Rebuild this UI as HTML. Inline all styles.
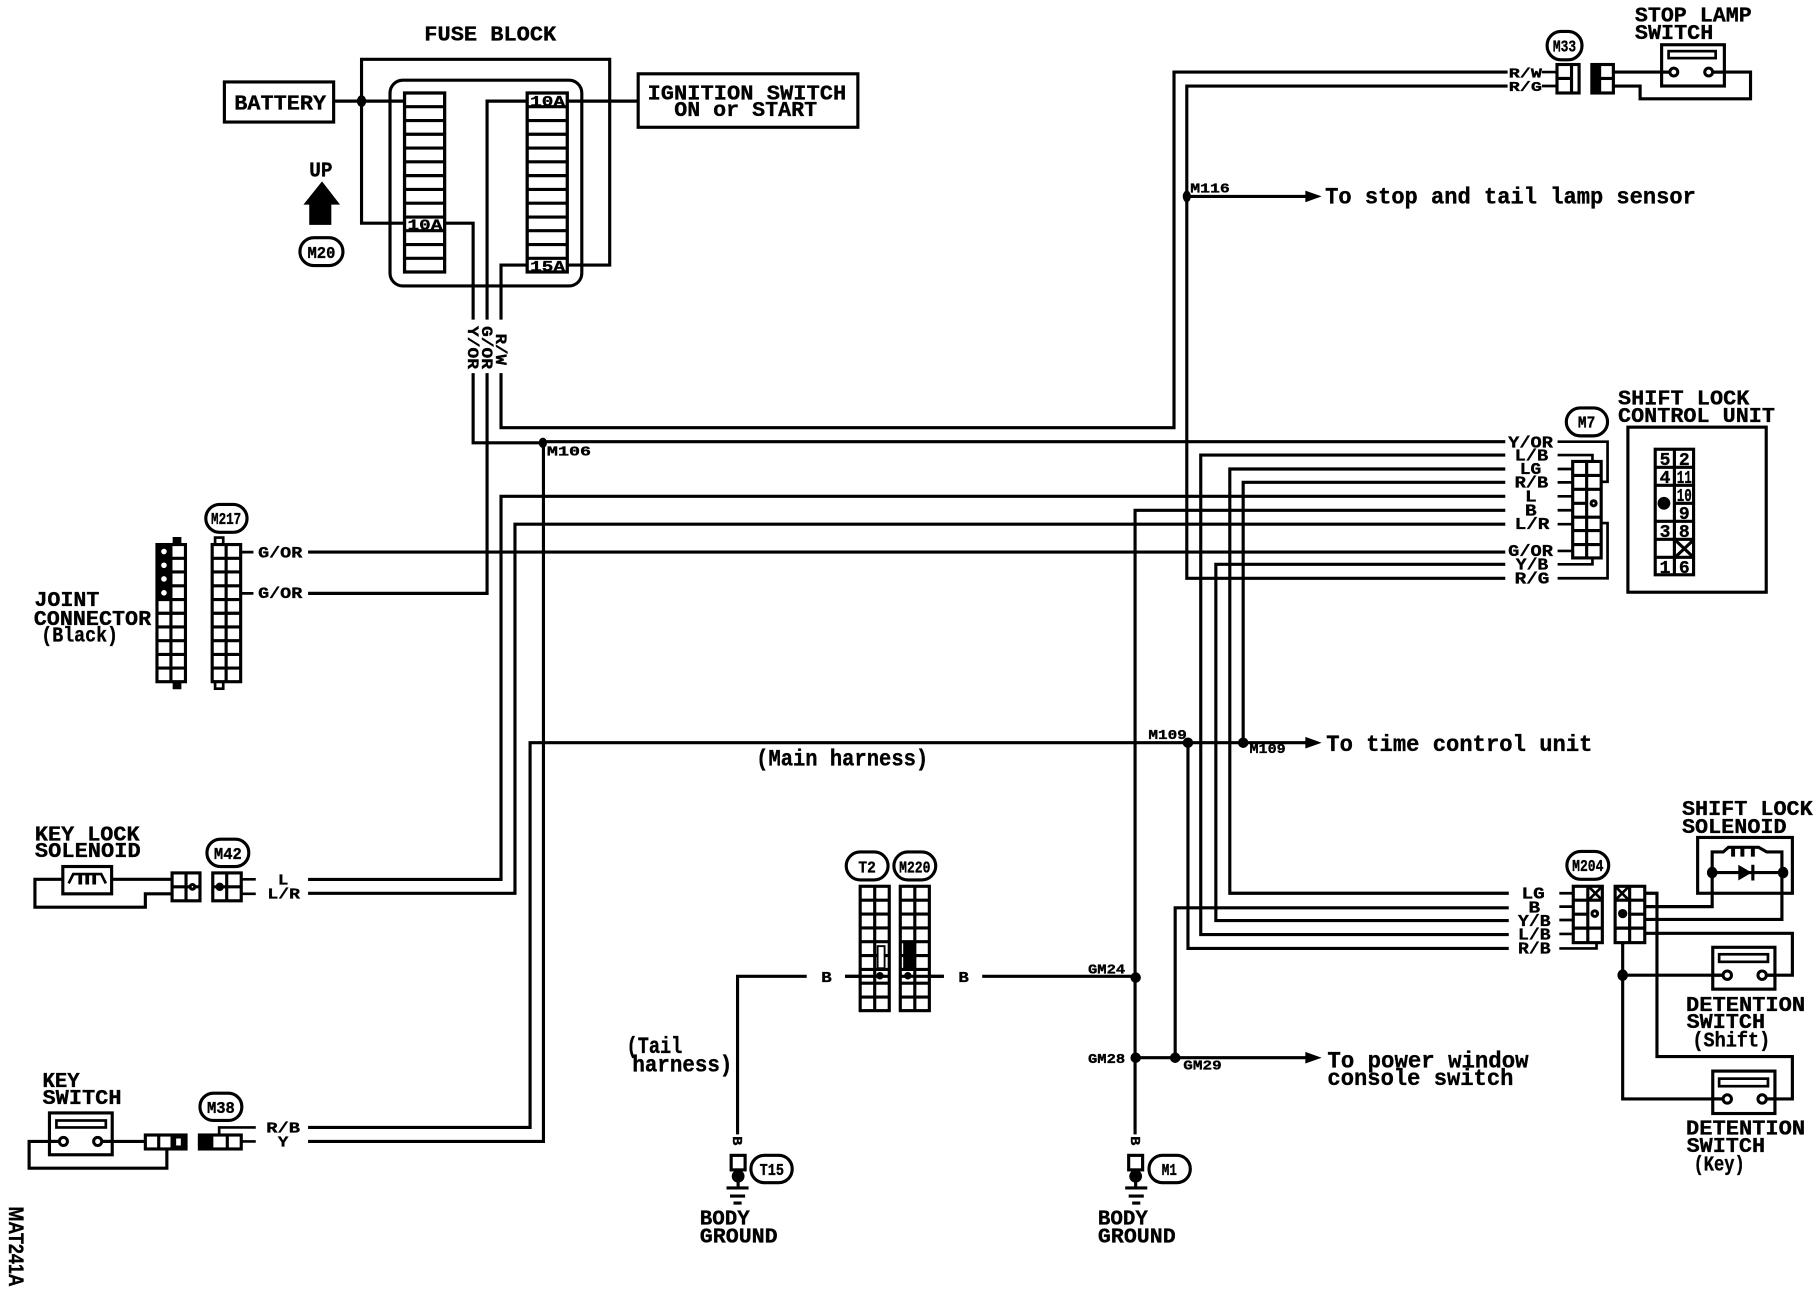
<!DOCTYPE html>
<html><head><meta charset="utf-8"><title>Shift lock wiring diagram</title>
<style>
html,body{margin:0;padding:0;background:#fff;width:1818px;height:1296px;overflow:hidden}
svg{display:block}
.w{fill:none;stroke:#000;stroke-width:2.7;stroke-linejoin:miter}
.t{fill:none;stroke:#000;stroke-width:2.3}
.k{fill:#000}
.b{fill:#fff;stroke:#000;stroke-width:2.6}
text{font-family:"Liberation Mono",monospace;font-weight:bold;fill:#000;stroke:#000;stroke-width:.3}
.a{font-size:18.5px}
.l{font-size:19.5px}
.s{font-size:13.5px}
.x{font-size:11.5px}
.p{font-size:13px;text-anchor:middle}
.r{font-size:14px;text-anchor:middle}
</style></head><body>
<svg width="1818" height="1296" viewBox="0 0 1564 1115" xmlns="http://www.w3.org/2000/svg">
<rect width="1564" height="1115" fill="#fff"/>

<!-- main wires -->
<g class="w">
<path d="M287 87H348M311 87V51H524.5V228H489M311 87V192H348"/>
<path d="M489 87H548"/>
<path d="M383 192H407V275M453 87H419V275M453 228H431V275"/>
<path d="M407 321V381H467L470 380H1295"/>
<path d="M419 321V510.5H265"/>
<path d="M431 321V368H1010V62H1297"/>
<path d="M1297 74H1021V497.5H1295"/>
<path d="M1021 169H1125"/>
<path d="M1295 391.5H1033V804H1298"/>
<path d="M1295 403.5H1058V768.5H1298"/>
<path d="M1295 415H1069.5V639"/>
<path d="M1295 427H431V756.6H265"/>
<path d="M1295 439H976.5V976"/>
<path d="M1295 451H443V768.6H265"/>
<path d="M265 475H1295"/>
<path d="M1295 485.5H1046V792H1298"/>
<path d="M1125 639H456V970H265"/>
<path d="M467.5 381V982H265"/>
<path d="M1022 639V816H1298"/>
<path d="M1298 781H1011V910"/>
<path d="M977 910H1125"/>
<path d="M845 840H977"/>
<path d="M694 840H634.5V976"/>
<path d="M727 840H764M774 840H812"/>
</g>

<!-- arrows & dots -->
<g class="k">
<polygon points="1123,164 1137,169 1123,174"/>
<polygon points="1123,634 1137,639 1123,644"/>
<polygon points="1123,905 1137,910 1123,915"/>
<ellipse cx="311" cy="87" rx="4" ry="5"/>
<ellipse cx="467" cy="381" rx="3.5" ry="4.5"/>
<ellipse cx="1021" cy="169" rx="3.5" ry="5"/>
<ellipse cx="1022" cy="639" rx="4.5" ry="4.5"/>
<ellipse cx="1069.5" cy="639" rx="4.5" ry="4.5"/>
<ellipse cx="977" cy="841" rx="4.5" ry="4.5"/>
<ellipse cx="977" cy="910" rx="4.5" ry="4.5"/>
<ellipse cx="1011" cy="910" rx="4.5" ry="4.5"/>
<ellipse cx="1396" cy="839" rx="4.5" ry="5"/>
<ellipse cx="1473" cy="750.7" rx="4.5" ry="5"/>
<ellipse cx="1534" cy="750.7" rx="4.5" ry="5"/>
</g>

<!-- fuse block -->
<text class="a" x="365" y="35" textLength="113.5" lengthAdjust="spacingAndGlyphs">FUSE BLOCK</text>
<rect x="335.5" y="69" width="165" height="177" rx="11" class="w"/>
<rect x="193" y="70.5" width="94" height="34.5" class="w"/>
<text class="a" x="201.5" y="94" textLength="79" lengthAdjust="spacingAndGlyphs">BATTERY</text>
<rect x="549" y="63.5" width="189" height="46" class="w"/>
<text class="a" x="557" y="85.5" textLength="171" lengthAdjust="spacingAndGlyphs">IGNITION SWITCH</text>
<text class="a" x="580" y="100" textLength="123" lengthAdjust="spacingAndGlyphs">ON or START</text>
<g fill="#fff" stroke="#000" stroke-width="2.8">
<rect x="348" y="80" width="34.5" height="154"/>
<rect x="453.5" y="80" width="34.5" height="154"/>
</g>
<path class="w" d="M348 91.8H382.5M348 103.7H382.5M348 115.5H382.5M348 127.4H382.5M348 139.2H382.5M348 151.1H382.5M348 163H382.5M348 174.8H382.5M348 186.7H382.5M348 198.5H382.5M348 210.4H382.5M348 222.2H382.5"/>
<path class="w" d="M453.5 91.8H488M453.5 103.7H488M453.5 115.5H488M453.5 127.4H488M453.5 139.2H488M453.5 151.1H488M453.5 163H488M453.5 174.8H488M453.5 186.7H488M453.5 198.5H488M453.5 210.4H488M453.5 222.2H488"/>
<text class="p" x="365.5" y="197.5" textLength="30" lengthAdjust="spacingAndGlyphs">10A</text>
<text class="p" x="471" y="91" textLength="30" lengthAdjust="spacingAndGlyphs">10A</text>
<text class="p" x="471" y="233" textLength="30" lengthAdjust="spacingAndGlyphs">15A</text>
<g class="s">
<text transform="translate(402.5,280.5) rotate(90)" textLength="37" lengthAdjust="spacingAndGlyphs">Y/OR</text>
<text transform="translate(414.5,280.5) rotate(90)" textLength="37" lengthAdjust="spacingAndGlyphs">G/OR</text>
<text transform="translate(426.5,287) rotate(90)" textLength="27" lengthAdjust="spacingAndGlyphs">R/W</text>
</g>

<!-- UP arrow -->
<text class="a" x="266" y="152" textLength="20" lengthAdjust="spacingAndGlyphs">UP</text>
<polygon class="k" points="277,156 292.5,176 285,176 285,193.5 266,193.5 266,176 261,176"/>
<rect x="258" y="204.5" width="37" height="24" rx="12" class="w"/>
<text class="r" x="276.5" y="222" textLength="24" lengthAdjust="spacingAndGlyphs">M20</text>

<!-- stop lamp switch -->
<text class="a" x="1406.5" y="18.5" textLength="100.5" lengthAdjust="spacingAndGlyphs">STOP LAMP</text>
<text class="a" x="1406.5" y="33.5" textLength="67.5" lengthAdjust="spacingAndGlyphs">SWITCH</text>
<rect x="1331" y="27" width="30" height="24.5" rx="12" class="w"/>
<text class="r" x="1346" y="44.5" textLength="20" lengthAdjust="spacingAndGlyphs">M33</text>
<g class="s">
<text x="1298" y="66.5" textLength="28.5" lengthAdjust="spacingAndGlyphs" style="font-size:12px">R/W</text>
<text x="1298" y="78.5" textLength="28.5" lengthAdjust="spacingAndGlyphs" style="font-size:12px">R/G</text>
</g>
<path class="t" d="M1326.5 62H1339M1326.5 74H1339"/>
<rect x="1339.5" y="55.5" width="19" height="24.5" class="w" fill="#fff"/>
<path class="w" d="M1339.5 67.5H1352M1352 55.5V80"/>
<rect x="1369.5" y="55.5" width="18.5" height="24.5" class="w"/>
<rect x="1369.5" y="55.5" width="8" height="24.5" class="k"/>
<path class="w" d="M1377 67.5H1388"/>
<path class="w" d="M1388 62H1436M1388 74H1411V85H1506V62H1474"/>
<rect x="1429.5" y="38.5" width="54" height="35.5" class="w" fill="#fff"/>
<rect x="1435.5" y="44" width="40.5" height="6" class="t" fill="#fff"/>
<circle cx="1440" cy="62" r="3.4" class="b"/>
<circle cx="1470" cy="62" r="3.4" class="b"/>
<path class="w" d="M1429.5 62H1436.5M1473.5 62H1483.5"/>
<g class="x" >
<text x="1024" y="165.5" textLength="34" lengthAdjust="spacingAndGlyphs">M116</text>
<text x="470.5" y="392" textLength="38" lengthAdjust="spacingAndGlyphs">M106</text>
<text x="988" y="636" textLength="33" lengthAdjust="spacingAndGlyphs">M109</text>
<text x="1075" y="648" textLength="31" lengthAdjust="spacingAndGlyphs">M109</text>
<text x="936" y="837.5" textLength="32" lengthAdjust="spacingAndGlyphs">GM24</text>
<text x="936" y="914.5" textLength="32" lengthAdjust="spacingAndGlyphs">GM28</text>
<text x="1018" y="920" textLength="33" lengthAdjust="spacingAndGlyphs">GM29</text>
</g>
<text class="l" x="1140" y="175" textLength="319" lengthAdjust="spacingAndGlyphs">To stop and tail lamp sensor</text>
<text class="l" x="1141" y="646" textLength="229" lengthAdjust="spacingAndGlyphs">To time control unit</text>
<text class="l" x="1142" y="918.5" textLength="173" lengthAdjust="spacingAndGlyphs">To power window</text>
<text class="l" x="1142" y="933.5" textLength="160" lengthAdjust="spacingAndGlyphs">console switch</text>

<!-- M7 / control unit -->
<text class="a" x="1392" y="348" textLength="113" lengthAdjust="spacingAndGlyphs">SHIFT LOCK</text>
<text class="a" x="1392" y="363" textLength="135" lengthAdjust="spacingAndGlyphs">CONTROL UNIT</text>
<rect x="1347.5" y="351" width="35.5" height="24" rx="12" class="w"/>
<text class="r" x="1365" y="368" textLength="15" lengthAdjust="spacingAndGlyphs">M7</text>
<g class="s" style="font-size:14px">
<text x="1297.5" y="385" textLength="38.5" lengthAdjust="spacingAndGlyphs">Y/OR</text>
<text x="1303" y="396" textLength="29" lengthAdjust="spacingAndGlyphs">L/B</text>
<text x="1307.5" y="408" textLength="18.5" lengthAdjust="spacingAndGlyphs">LG</text>
<text x="1303" y="419.5" textLength="29" lengthAdjust="spacingAndGlyphs">R/B</text>
<text x="1312" y="431.5" textLength="10" lengthAdjust="spacingAndGlyphs">L</text>
<text x="1312" y="443.5" textLength="10" lengthAdjust="spacingAndGlyphs">B</text>
<text x="1303" y="455" textLength="30" lengthAdjust="spacingAndGlyphs">L/R</text>
<text x="1297.5" y="478.5" textLength="38.5" lengthAdjust="spacingAndGlyphs">G/OR</text>
<text x="1304" y="490" textLength="28" lengthAdjust="spacingAndGlyphs">Y/B</text>
<text x="1303" y="502" textLength="30" lengthAdjust="spacingAndGlyphs">R/G</text>
</g>
<path class="t" d="M1340 380H1383V414.5H1377M1340 391.5H1370V397M1340 403.5H1352M1340 415H1352M1340 427H1352M1340 439H1352M1340 451H1352M1340 474H1352M1340 485.5H1370V480M1340 497.5H1383V450H1377"/>
<rect x="1353" y="397" width="24.5" height="83" class="w" fill="#fff"/>
<path class="w" d="M1365 397V480M1353 409H1377.5M1353 421H1365M1353 433H1365M1353 445H1377.5M1353 456.5H1377.5M1353 468.5H1377.5M1365 421H1377.5"/>
<circle cx="1371" cy="433" r="2.2" class="b"/>
<rect x="1400.5" y="367.5" width="119" height="142" class="w"/>
<rect x="1424" y="386.5" width="33" height="108" class="w" fill="#fff"/>
<path class="w" d="M1440.5 386.5V494.5M1424 402H1457M1424 417.5H1440.5M1440.5 417.5H1457M1440.5 433H1457M1424 448.5H1457M1424 464H1457M1424 479.5H1457"/>
<circle cx="1431.5" cy="433" r="5.5" class="k"/>
<path class="w" d="M1441 464.5L1457 479.5M1457 464.5L1441 479.5"/>
<g class="p" style="font-size:15.5px">
<text x="1432.5" y="400">5</text><text x="1449" y="400">2</text>
<text x="1432.5" y="415.5">4</text><text x="1449" y="415.5" textLength="13" lengthAdjust="spacingAndGlyphs">11</text>
<text x="1449" y="431" textLength="13" lengthAdjust="spacingAndGlyphs">10</text>
<text x="1449" y="446.5">9</text>
<text x="1432.5" y="462">3</text><text x="1449" y="462">8</text>
<text x="1432.5" y="493">1</text><text x="1449" y="493">6</text>
</g>

<!-- joint connector -->
<text class="a" x="29.5" y="521.5" textLength="56" lengthAdjust="spacingAndGlyphs">JOINT</text>
<text class="a" x="29" y="537.5" textLength="101" lengthAdjust="spacingAndGlyphs">CONNECTOR</text>
<text class="a" x="35.5" y="552" textLength="66" lengthAdjust="spacingAndGlyphs">(Black)</text>
<rect x="148.5" y="462" width="7.5" height="7" class="k"/>
<rect x="148.5" y="586" width="7.5" height="7" class="k"/>
<rect x="135" y="468.5" width="12" height="47.5" class="k"/>
<g fill="#fff"><circle cx="141" cy="474.5" r="2.4"/><circle cx="141" cy="486.3" r="2.4"/><circle cx="141" cy="498.1" r="2.4"/><circle cx="141" cy="510" r="2.4"/></g>
<rect x="135" y="468.5" width="24.5" height="118" class="w"/>
<path class="w" d="M147 468.5V586.5M135 480.3H159.5M135 492.1H159.5M135 504H159.5M135 515.8H159.5M135 527.6H159.5M135 539.4H159.5M135 551.2H159.5M135 563H159.5M135 574.8H159.5"/>
<rect x="185" y="462.5" width="7" height="6" class="t"/>
<rect x="185" y="586.5" width="7" height="6" class="t"/>
<rect x="182.5" y="468.5" width="24.5" height="118" class="w"/>
<path class="w" d="M194.5 468.5V586.5M182.5 480.3H207M182.5 492.1H207M182.5 504H207M182.5 515.8H207M182.5 527.6H207M182.5 539.4H207M182.5 551.2H207M182.5 563H207M182.5 574.8H207"/>
<path class="t" d="M207 475H218M207 510.5H218"/>
<rect x="177" y="434" width="35.5" height="24" rx="12" class="w"/>
<text class="r" x="194.5" y="451" textLength="26" lengthAdjust="spacingAndGlyphs">M217</text>
<g class="s">
<text x="222" y="479.5" textLength="38" lengthAdjust="spacingAndGlyphs">G/OR</text>
<text x="222" y="514.5" textLength="38" lengthAdjust="spacingAndGlyphs">G/OR</text>
</g>

<text class="l" x="650.5" y="658.5" textLength="148" lengthAdjust="spacingAndGlyphs">(Main harness)</text>

<!-- key lock solenoid -->
<text class="a" x="30" y="723" textLength="90" lengthAdjust="spacingAndGlyphs">KEY LOCK</text>
<text class="a" x="30" y="737.5" textLength="91" lengthAdjust="spacingAndGlyphs">SOLENOID</text>
<path class="w" d="M96 756.5H148M54 756.5H30V780.5H125V769H148"/>
<rect x="54" y="745.5" width="42" height="23.5" class="w"/>
<path class="t" d="M59 760L63 752H87L91 760"/>
<path d="M69 752V761M75 752V761M81 752V761" fill="none" stroke="#000" stroke-width="3.2"/>
<rect x="148" y="751" width="24" height="24" class="w"/>
<path class="w" d="M160 751V775M148 763H172"/>
<circle cx="165.5" cy="763" r="2" class="b"/>
<rect x="183" y="751" width="24.5" height="24" class="w"/>
<path class="w" d="M195 751V775M183 763H207.5"/>
<circle cx="189" cy="763" r="3.6" class="k"/>
<path class="t" d="M207.5 756.5H220M207.5 769H220"/>
<rect x="178" y="722" width="36" height="23.5" rx="11.5" class="w"/>
<text class="r" x="196" y="739" textLength="24" lengthAdjust="spacingAndGlyphs">M42</text>
<g class="s" style="font-size:13px">
<text x="239" y="761" textLength="9" lengthAdjust="spacingAndGlyphs">L</text>
<text x="230" y="773" textLength="28" lengthAdjust="spacingAndGlyphs">L/R</text>
<text x="229" y="974.5" textLength="29" lengthAdjust="spacingAndGlyphs">R/B</text>
<text x="239" y="986.5" textLength="9" lengthAdjust="spacingAndGlyphs">Y</text>
</g>

<!-- key switch -->
<text class="a" x="36.5" y="935" textLength="32" lengthAdjust="spacingAndGlyphs">KEY</text>
<text class="a" x="36.5" y="950" textLength="68" lengthAdjust="spacingAndGlyphs">SWITCH</text>
<path class="w" d="M88 982H125M143.5 988V1005H25V982H50"/>
<rect x="42.5" y="957.5" width="54" height="36" class="w" fill="#fff"/>
<rect x="48.5" y="964" width="42.5" height="6" class="t" fill="#fff"/>
<circle cx="54.5" cy="982" r="3.5" class="b"/>
<circle cx="84" cy="982" r="3.5" class="b"/>
<path class="w" d="M42.5 982H50.5M88 982H96.5"/>
<rect x="125" y="976.5" width="35" height="12" class="w" fill="#fff"/>
<rect x="148" y="976.5" width="12" height="12" class="k"/>
<rect x="151.5" y="979.5" width="4" height="6" fill="#fff"/>
<path class="w" d="M136.5 976.5V988.5M148 976.5V988.5"/>
<rect x="171.5" y="976.5" width="36" height="12" class="w" fill="#fff"/>
<rect x="171.5" y="976.5" width="12" height="12" class="k"/>
<path class="w" d="M195.5 976.5V988.5"/>
<path class="t" d="M207.5 982H220M188.5 976.5V970H220"/>
<rect x="172" y="940.5" width="36" height="23.5" rx="11.5" class="w"/>
<text class="r" x="190" y="957.5" textLength="24" lengthAdjust="spacingAndGlyphs">M38</text>
<text transform="translate(7.5,1038) rotate(90)" style="font-family:'Liberation Sans',sans-serif;font-size:18px" textLength="69" lengthAdjust="spacingAndGlyphs">MAT241A</text>

<!-- T2 / M220 -->
<rect x="728" y="733" width="36" height="24" rx="12" class="w"/>
<text class="r" x="746" y="750.5" textLength="15" lengthAdjust="spacingAndGlyphs">T2</text>
<rect x="769" y="733" width="36" height="24" rx="12" class="w"/>
<text class="r" x="787" y="750.5" textLength="27" lengthAdjust="spacingAndGlyphs">M220</text>
<g>
<rect x="740" y="762.5" width="25" height="107" class="w" fill="#fff"/>
<path class="w" d="M752.5 762.5V869.5M740 774.5H765M740 786.4H765M740 798.3H765M740 810.2H765M740 822.1H765M740 834H765M740 845.9H765M740 857.8H765"/>
<rect x="774.5" y="762.5" width="25" height="107" class="w" fill="#fff"/>
<path class="w" d="M787 762.5V869.5M774.5 774.5H799.5M774.5 786.4H799.5M774.5 798.3H799.5M774.5 810.2H799.5M774.5 822.1H799.5M774.5 834H799.5M774.5 845.9H799.5M774.5 857.8H799.5"/>
</g>
<rect x="755" y="814" width="6" height="19" fill="#fff" stroke="#000" stroke-width="1.6"/>
<rect x="777" y="811" width="9" height="22" class="k"/>
<path class="w" d="M727 840H740M799.5 840H812"/>
<circle cx="757" cy="839.5" r="3.2" class="k"/>
<circle cx="781" cy="839.5" r="3.2" class="k"/>
<g class="s" style="font-size:13px">
<text x="706.5" y="845" textLength="9" lengthAdjust="spacingAndGlyphs">B</text>
<text x="824.5" y="845" textLength="9" lengthAdjust="spacingAndGlyphs">B</text>
</g>
<text class="l" x="539" y="906" textLength="48" lengthAdjust="spacingAndGlyphs">(Tail</text>
<text class="l" x="544" y="922" textLength="86" lengthAdjust="spacingAndGlyphs">harness)</text>

<!-- grounds -->
<text class="x" transform="translate(630.5,977.5) rotate(90)" textLength="8" lengthAdjust="spacingAndGlyphs">B</text>
<rect x="629" y="994" width="12" height="12.5" class="w" fill="#fff"/>
<circle cx="635" cy="1012" r="5.5" class="k"/>
<path class="w" d="M635 1012V1022M625 1022H644"/>
<path class="w" d="M628 1029H641M631 1035H638"/>
<rect x="646" y="994" width="35.5" height="23.5" rx="11.5" class="w"/>
<text class="r" x="664" y="1011" textLength="21" lengthAdjust="spacingAndGlyphs">T15</text>
<text class="a" x="602" y="1053.5" textLength="43" lengthAdjust="spacingAndGlyphs">BODY</text>
<text class="a" x="602" y="1069" textLength="67" lengthAdjust="spacingAndGlyphs">GROUND</text>

<text class="x" transform="translate(973,977.5) rotate(90)" textLength="8" lengthAdjust="spacingAndGlyphs">B</text>
<rect x="971" y="994" width="12" height="12.5" class="w" fill="#fff"/>
<circle cx="977" cy="1012" r="5.5" class="k"/>
<path class="w" d="M977 1012V1022M968 1022H987"/>
<path class="w" d="M971 1029H984M974 1035H981"/>
<rect x="988.5" y="994" width="35.5" height="23.5" rx="11.5" class="w"/>
<text class="r" x="1006" y="1011" textLength="13" lengthAdjust="spacingAndGlyphs">M1</text>
<text class="a" x="944.5" y="1053.5" textLength="43" lengthAdjust="spacingAndGlyphs">BODY</text>
<text class="a" x="944.5" y="1069" textLength="67" lengthAdjust="spacingAndGlyphs">GROUND</text>

<!-- M204 -->
<rect x="1348" y="732.5" width="36" height="24" rx="12" class="w"/>
<text class="r" x="1366" y="749.5" textLength="27" lengthAdjust="spacingAndGlyphs">M204</text>
<g class="s" style="font-size:14px">
<text x="1309" y="773" textLength="20" lengthAdjust="spacingAndGlyphs">LG</text>
<text x="1315" y="785" textLength="10" lengthAdjust="spacingAndGlyphs">B</text>
<text x="1306" y="796.5" textLength="28" lengthAdjust="spacingAndGlyphs">Y/B</text>
<text x="1306" y="808.5" textLength="28" lengthAdjust="spacingAndGlyphs">L/B</text>
<text x="1306" y="820.5" textLength="28" lengthAdjust="spacingAndGlyphs">R/B</text>
</g>
<path class="t" d="M1341.5 768.5H1353.5M1341.5 780H1353.5M1341.5 791.5H1353.5M1341.5 803.5H1353.5M1341.5 816H1373.5V811"/>
<rect x="1353.5" y="762.5" width="25" height="48.5" class="w" fill="#fff"/>
<path class="w" d="M1366 762.5V811M1353.5 774.5H1378.5M1353.5 786.5H1366M1353.5 798.5H1378.5"/>
<path class="t" d="M1367 763L1378 774M1378 763L1367 774"/>
<circle cx="1372" cy="786" r="2.4" class="b"/>
<rect x="1389.5" y="762.5" width="25.5" height="48.5" class="w" fill="#fff"/>
<path class="w" d="M1402 762.5V811M1389.5 774.5H1415M1402 786.5H1415M1389.5 798.5H1415"/>
<path class="t" d="M1390 763L1401 774M1401 763L1390 774"/>
<circle cx="1396" cy="786" r="4" class="k"/>

<path class="w" d="M1415 768.5H1425.5V909H1542V945.5H1520"/>
<path class="w" d="M1415 780H1473V750.7M1415 791H1533V750.7M1415 803H1542V839H1520"/>
<path class="w" d="M1396 811V945.5H1482M1396 839H1482"/>

<text class="a" x="1447" y="701" textLength="112.5" lengthAdjust="spacingAndGlyphs">SHIFT LOCK</text>
<text class="a" x="1447" y="716.5" textLength="90" lengthAdjust="spacingAndGlyphs">SOLENOID</text>
<rect x="1460.5" y="720.5" width="81.5" height="48" class="w"/>
<path class="w" d="M1473 750.7V733H1482.5L1487 729H1513L1520 733H1533V750.7"/>
<path d="M1491 729V737M1499 729V737M1508 729V737" fill="none" stroke="#000" stroke-width="3.4"/>
<path class="w" d="M1473 750.7H1533M1508 744V757.5"/>
<polygon class="k" points="1495.5,744 1507,750.7 1495.5,757.5"/>

<rect x="1473.5" y="815" width="53.5" height="36" class="w" fill="#fff"/>
<rect x="1479" y="821" width="42" height="6.5" class="t" fill="#fff"/>
<circle cx="1486" cy="839" r="3.6" class="b"/>
<circle cx="1516" cy="839" r="3.6" class="b"/>
<path class="w" d="M1473.5 839H1482.5M1519.5 839H1527"/>
<rect x="1473.5" y="921.5" width="53.5" height="36.5" class="w" fill="#fff"/>
<rect x="1479" y="928" width="42" height="6.5" class="t" fill="#fff"/>
<circle cx="1486" cy="945.5" r="3.6" class="b"/>
<circle cx="1516" cy="945.5" r="3.6" class="b"/>
<path class="w" d="M1473.5 945.5H1482.5M1519.5 945.5H1527"/>

<text class="a" x="1450.5" y="870" textLength="102.5" lengthAdjust="spacingAndGlyphs">DETENTION</text>
<text class="a" x="1451" y="884.5" textLength="67.5" lengthAdjust="spacingAndGlyphs">SWITCH</text>
<text class="a" x="1456" y="900.5" textLength="67" lengthAdjust="spacingAndGlyphs">(Shift)</text>
<text class="a" x="1450.5" y="976" textLength="102.5" lengthAdjust="spacingAndGlyphs">DETENTION</text>
<text class="a" x="1451" y="991" textLength="67.5" lengthAdjust="spacingAndGlyphs">SWITCH</text>
<text class="a" x="1457" y="1007" textLength="44" lengthAdjust="spacingAndGlyphs">(Key)</text>
</svg>
</body></html>
